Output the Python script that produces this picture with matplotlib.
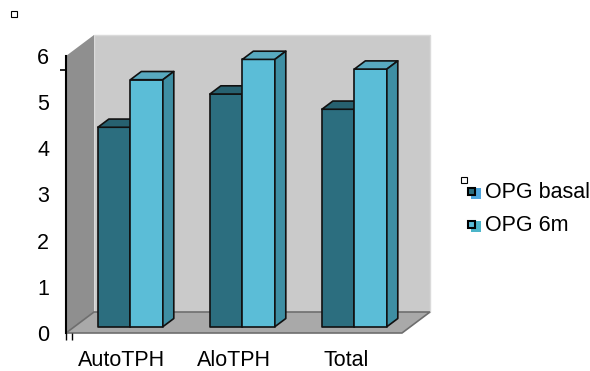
import matplotlib
matplotlib.use("Agg")
import matplotlib.pyplot as plt
from matplotlib.patches import Polygon, Rectangle

plt.rcParams['font.family'] = ['Liberation Sans', 'DejaVu Sans']

categories = ['AutoTPH', 'AloTPH', 'Total']
series_names = ['OPG basal', 'OPG 6m']
opg_basal = [4.32, 5.04, 4.71]
opg_6m = [5.35, 5.79, 5.58]
y_ticks = [0, 1, 2, 3, 4, 5, 6]

# colours: front, top, side for each series
colors = {
    'OPG basal': ('#2c6e7f', '#276170', '#245a68'),
    'OPG 6m': ('#5bbdd7', '#58a9bf', '#3e8ea3'),
}
legend_colors = ['#4ea6dd', '#4bb5c9']

# depth offset of the 3d box in data units
DX, DY = 0.25, 0.455
Z0, BD = 0.30, 0.39     # bar front position and bar depth (fraction of DX/DY)
W = 0.29                # bar width
FS = 15.5

fig = plt.figure(figsize=(5.9, 3.71), dpi=100)
ax = fig.add_axes([66 / 590, 38 / 371, 336 / 590, 277 / 371])
ax.set_xlim(0, 3)
ax.set_ylim(0, 6)

n = len(categories)
ymax = y_ticks[-1]

# walls and floor
ax.add_patch(Polygon([(DX, DY), (n + DX, DY), (n + DX, ymax + DY), (DX, ymax + DY)],
                     closed=True, fc='#cacaca', ec='#dadada', lw=1.0, clip_on=False, zorder=1))
ax.add_patch(Polygon([(0, 0), (DX, DY), (DX, ymax + DY), (0, ymax)],
                     closed=True, fc='#8f8f8f', ec='none', clip_on=False, zorder=1))
ax.add_patch(Polygon([(0, 0), (n, 0), (n + DX, DY), (DX, DY)],
                     closed=True, fc='#a9a9a9', ec='#6e6e6e', lw=1.2, clip_on=False, zorder=1))


def bar3d(x0, v, front, top, side):
    fx, fy = Z0 * DX, Z0 * DY
    bx, by = (Z0 + BD) * DX, (Z0 + BD) * DY
    kw = dict(closed=True, ec='#111111', lw=1.2, clip_on=False, zorder=3, joinstyle='round')
    ax.add_patch(Polygon([(x0 + fx, fy), (x0 + W + fx, fy), (x0 + W + fx, v + fy), (x0 + fx, v + fy)],
                         fc=front, **kw))
    ax.add_patch(Polygon([(x0 + fx, v + fy), (x0 + W + fx, v + fy), (x0 + W + bx, v + by), (x0 + bx, v + by)],
                         fc=top, **kw))
    ax.add_patch(Polygon([(x0 + W + fx, fy), (x0 + W + bx, by), (x0 + W + bx, v + by), (x0 + W + fx, v + fy)],
                         fc=side, **kw))


for i in range(n):
    left = i + 0.5 - W
    bar3d(left, opg_basal[i], *colors['OPG basal'])
    bar3d(left + W, opg_6m[i], *colors['OPG 6m'])

# axes
for s in ['top', 'right', 'bottom']:
    ax.spines[s].set_visible(False)
ax.spines['left'].set_linewidth(1.5)
ax.spines['left'].set_zorder(4)
ax.set_yticks(y_ticks)
ax.set_yticklabels([str(t) for t in y_ticks], fontsize=FS)
ax.tick_params(axis='y', which='major', length=0, pad=12)
ax.set_yticks([6, 5.7], minor=True)
ax.tick_params(axis='y', which='minor', length=4.5, width=1.2, direction='out')
ax.set_xticks([0.5, 1.5, 2.5])
ax.set_xticklabels(categories, fontsize=FS)
ax.tick_params(axis='x', which='major', length=0, pad=12)
ax.set_xticks([0, 0.05], minor=True)
ax.tick_params(axis='x', which='minor', length=5, width=1.0, direction='out')
ax.patch.set_visible(False)

# legend
for k, name in enumerate(series_names):
    yc = 1 - (193 + 33 * k) / 371
    fig.add_artist(Rectangle((471 / 590, yc - 6 / 371), 10 / 590, 11 / 371,
                             transform=fig.transFigure, fc=legend_colors[k], ec='none'))
    fig.add_artist(Rectangle((468 / 590, yc - 2 / 371), 7 / 590, 7 / 371,
                             transform=fig.transFigure, fc=colors[name][0], ec='black', lw=1.5))
    fig.text(485 / 590, yc, name, fontsize=FS, va='center', ha='left')

# small empty handle squares
for px, py in [(11, 11), (461, 177)]:
    fig.add_artist(Rectangle((px / 590, 1 - (py + 6) / 371), 6 / 590, 6 / 371,
                             transform=fig.transFigure, fc='white', ec='black', lw=0.8))

fig.savefig('out.png', dpi=100)
